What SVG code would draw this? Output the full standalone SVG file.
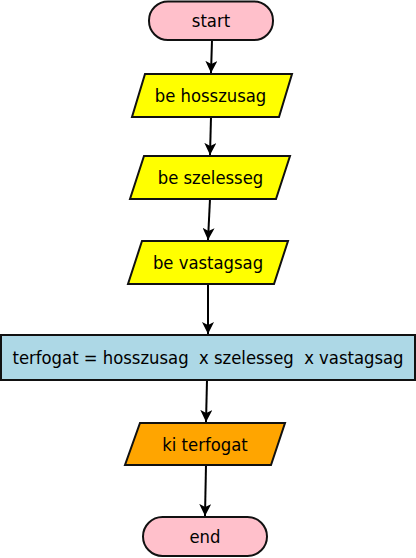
<svg xmlns="http://www.w3.org/2000/svg" width="416" height="558" viewBox="0 0 416 558">
<defs>
<marker id="ah" markerWidth="12" markerHeight="12" refX="12" refY="6" orient="auto" markerUnits="userSpaceOnUse">
<path d="M0,0 L12,6 L0,12 L3,6 z" fill="#000"/>
</marker>
<style>
.n{stroke:#111;stroke-width:2}
.t{font-family:"DejaVu Sans Condensed","DejaVu Sans",sans-serif;font-stretch:condensed;font-size:18.3px;text-anchor:middle;fill:#000}
.e{stroke:#000;stroke-width:2;fill:none;marker-end:url(#ah)}
</style>
</defs>
<rect width="416" height="558" fill="#fff"/>
<g id="edges">
<path class="e" d="M212,40 L211,73"/>
<path class="e" d="M211,117 L210,155"/>
<path class="e" d="M210,199 L208,240"/>
<path class="e" d="M208,284 L208,334"/>
<path class="e" d="M207,380 L206,422"/>
<path class="e" d="M206,465 L205,516"/>
</g>
<g id="start">
<rect class="n" x="149" y="1.5" width="124" height="38.5" rx="19" fill="#ffc0cb"/>
<text class="t" x="211" y="26.5">start</text>
</g>
<g id="be_hosszusag">
<polygon class="n" points="145,74 292,74 279,117 132,117" fill="#ffff00"/>
<text class="t" x="210.5" y="102">be hosszusag</text>
</g>
<g id="be_szelesseg">
<polygon class="n" points="144,156 290,156 276,199 130,199" fill="#ffff00"/>
<text class="t" x="210.5" y="184">be szelesseg</text>
</g>
<g id="be_vastagsag">
<polygon class="n" points="142,241 288,241 274,284 128,284" fill="#ffff00"/>
<text class="t" x="208" y="269">be vastagsag</text>
</g>
<g id="terfogat">
<rect class="n" x="1" y="335" width="414" height="45" fill="#add8e6"/>
<text class="t" x="208" y="363.5" xml:space="preserve">terfogat = hosszusag  x szelesseg  x vastagsag</text>
</g>
<g id="ki_terfogat">
<polygon class="n" points="140,423 285,423 271,465 125,465" fill="#ffa500"/>
<text class="t" x="205" y="450.5">ki terfogat</text>
</g>
<g id="end">
<rect class="n" x="143" y="517" width="124" height="39" rx="19.5" fill="#ffc0cb"/>
<text class="t" x="205" y="542.5">end</text>
</g>
</svg>
